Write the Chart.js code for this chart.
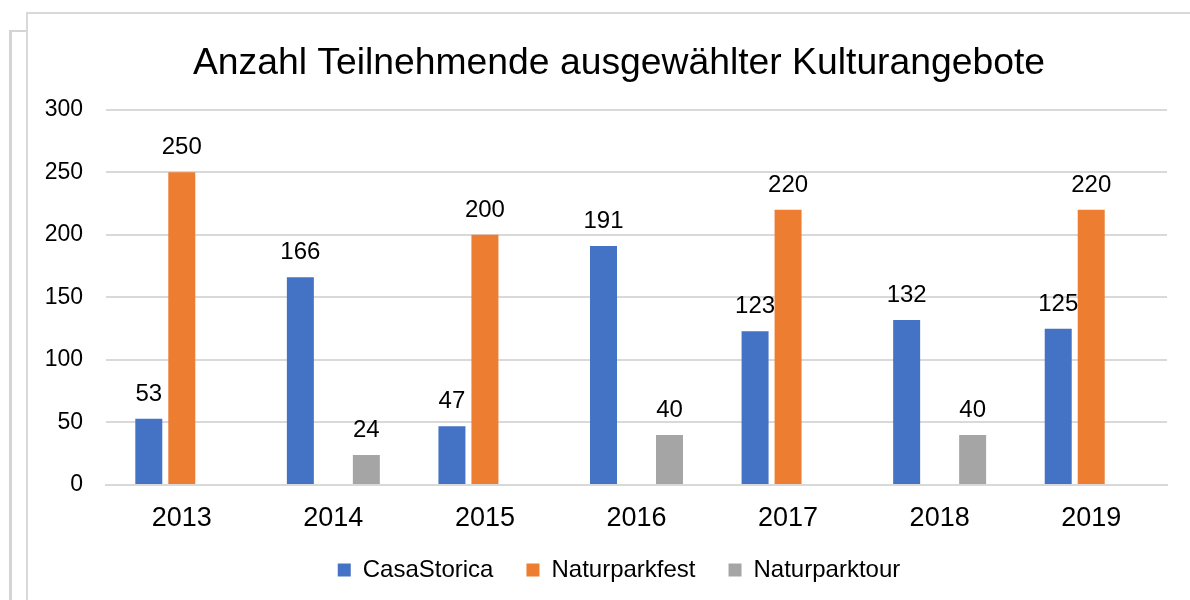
<!DOCTYPE html>
<html>
<head>
<meta charset="utf-8">
<script src="https://cdn.jsdelivr.net/npm/chart.js@4/dist/chart.umd.min.js"></script>
<style>
  html, body { margin: 0; padding: 0; background: #fff; }
  #wrap { position: relative; width: 1190px; height: 600px; overflow: hidden; }
  .frameOuter { position: absolute; left: 9px; top: 30px; width: 40px; height: 600px;
    border-left: 3px solid #d4d4d4; border-top: 2px solid #d4d4d4; }
  .frameInner { position: absolute; left: 26px; top: 12px; width: 1200px; height: 600px;
    border-left: 2px solid #d9d9d9; border-top: 2px solid #d9d9d9; background: #fff; }
  canvas { position: absolute; left: 0; top: 0; }
</style>
</head>
<body>
<div id="wrap">
  <div class="frameOuter"></div>
  <div class="frameInner"></div>
  <canvas id="chart" width="1240" height="600"></canvas>
</div>
<script>
const years = ['2013', '2014', '2015', '2016', '2017', '2018', '2019'];
const casaStorica   = [53, 166, 47, 191, 123, 132, 125];
const naturparkfest = [250, null, 200, null, 220, null, 220];
const naturparktour = [null, 24, null, 40, null, 40, null];
const yTicks = [0, 50, 100, 150, 200, 250, 300];

const FONT = "'Liberation Sans', Arial, sans-serif";

// Werte über den Balken
const barLabels = {
  id: 'barLabels',
  afterDatasetsDraw(chart) {
    const ctx = chart.ctx;
    ctx.save();
    ctx.font = '24px ' + FONT;
    ctx.fillStyle = '#000';
    ctx.textAlign = 'center';
    ctx.textBaseline = 'alphabetic';
    chart.data.datasets.forEach((ds, i) => {
      chart.getDatasetMeta(i).data.forEach((bar, j) => {
        const v = ds.data[j];
        if (v == null) return;
        ctx.fillText(String(v), bar.x, bar.y - 18);
      });
    });
    ctx.restore();
  }
};

// Legende etwas näher an die Achse rücken
const legendShift = {
  id: 'legendShift',
  afterLayout(chart) {
    const l = chart.legend;
    if (!l) return;
    l.top -= 9; l.bottom -= 9;
  }
};

const ctx = document.getElementById('chart').getContext('2d');
new Chart(ctx, {
  type: 'bar',
  data: {
    labels: years,
    datasets: [
      { label: 'CasaStorica',   data: casaStorica,   backgroundColor: '#4472C4' },
      { label: 'Naturparkfest', data: naturparkfest, backgroundColor: '#ED7D31' },
      { label: 'Naturparktour', data: naturparktour, backgroundColor: '#A5A5A5' }
    ]
  },
  options: {
    responsive: false,
    animation: false,
    devicePixelRatio: 1,
    layout: { padding: { left: 30, right: 32, top: 14, bottom: 6 } },
    datasets: { bar: { categoryPercentage: 0.653, barPercentage: 0.818 } },
    plugins: {
      title: {
        display: true,
        text: 'Anzahl Teilnehmende ausgewählter Kulturangebote',
        color: '#000',
        font: { family: FONT, size: 37.3, weight: 'normal' },
        padding: { top: 27, bottom: 24 }
      },
      legend: {
        position: 'bottom',
        maxHeight: 60,
        labels: {
          color: '#000',
          font: { family: FONT, size: 24 },
          boxWidth: 13, boxHeight: 13, padding: 33
        }
      },
      tooltip: { enabled: false }
    },
    scales: {
      x: {
        grid: { display: false },
        border: { color: '#d9d9d9', width: 2 },
        ticks: { color: '#000', font: { family: FONT, size: 27 }, padding: 9 },
        afterFit: s => { s.height = 49; }
      },
      y: {
        min: 0, max: 300,
        afterBuildTicks: s => { s.ticks = yTicks.map(v => ({ value: v })); },
        grid: { color: '#d9d9d9', lineWidth: 2, drawTicks: false },
        border: { display: false },
        ticks: { color: '#000', font: { family: FONT, size: 23 }, padding: 23 },
        afterFit: s => { s.width = 76; }
      },
      // leerer Platzhalter rechts, damit Titel und Legende wie im Original sitzen
      yPad: {
        position: 'right',
        grid: { display: false },
        border: { display: false },
        ticks: { display: false },
        afterFit: s => { s.width = 41; }
      }
    }
  },
  plugins: [barLabels, legendShift]
});
</script>
</body>
</html>
